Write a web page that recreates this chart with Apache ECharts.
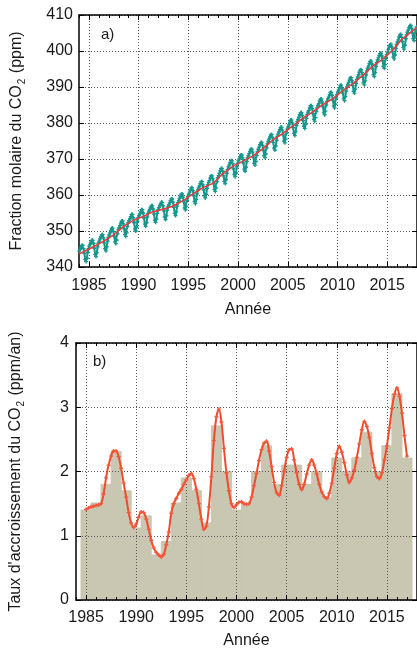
<!DOCTYPE html>
<html><head><meta charset="utf-8">
<script src="https://cdn.jsdelivr.net/npm/echarts@6/dist/echarts.min.js"></script>
<style>html,body{margin:0;padding:0;background:#fff}#c{width:417px;height:650px}</style>
</head><body><div id="c"></div>
<script>
// ---- data ----
const co2StartYear = 1984; // monthly values, one row per year (Jan..Dec)
const co2Monthly = [
[344.4,344.9,345.5,346.0,346.0,345.1,343.8,342.1,341.5,342.5,344.1,345.1],
[345.8,346.3,346.9,347.4,347.4,346.6,345.2,343.5,342.9,344.0,345.6,346.6],
[347.2,347.8,348.4,348.9,349.0,348.1,346.7,345.1,344.5,345.6,347.2,348.2],
[348.9,349.5,350.1,350.7,350.8,349.9,348.6,347.0,346.5,347.5,349.2,350.3],
[350.9,351.5,352.2,352.7,352.8,352.0,350.6,349.0,348.5,349.5,351.2,352.3],
[352.9,353.4,354.0,354.6,354.6,353.7,352.3,350.6,350.0,351.1,352.7,353.7],
[354.3,354.8,355.4,355.9,355.9,355.0,353.6,351.9,351.3,352.3,353.9,354.9],
[355.5,356.0,356.6,357.0,357.0,356.1,354.7,353.0,352.4,353.3,354.9,355.9],
[356.5,357.0,357.5,358.0,357.9,357.0,355.6,353.9,353.2,354.2,355.8,356.7],
[357.3,357.8,358.4,358.9,358.9,358.0,356.6,354.9,354.3,355.3,356.9,357.9],
[358.5,359.1,359.7,360.2,360.3,359.4,358.1,356.4,355.9,356.9,358.5,359.6],
[360.2,360.8,361.4,362.0,362.0,361.2,359.8,358.2,357.6,358.7,360.3,361.4],
[362.0,362.5,363.2,363.7,363.7,362.8,361.4,359.8,359.2,360.2,361.8,362.8],
[363.5,364.0,364.7,365.3,365.3,364.5,363.2,361.5,361.0,362.0,363.7,364.8],
[365.4,366.0,366.7,367.3,367.4,366.6,365.3,363.7,363.2,364.3,366.0,367.1],
[367.8,368.3,369.0,369.5,369.5,368.7,367.3,365.7,365.1,366.1,367.8,368.8],
[369.5,370.0,370.6,371.1,371.1,370.3,368.9,367.2,366.6,367.7,369.3,370.3],
[370.9,371.5,372.1,372.7,372.7,371.9,370.5,368.8,368.3,369.3,371.0,372.0],
[372.7,373.3,374.0,374.5,374.6,373.8,372.5,370.9,370.4,371.4,373.1,374.2],
[374.9,375.5,376.1,376.7,376.8,376.0,374.6,373.0,372.5,373.6,375.2,376.3],
[377.0,377.5,378.2,378.8,378.8,378.0,376.7,375.0,374.5,375.5,377.2,378.3],
[378.9,379.5,380.2,380.8,380.8,380.0,378.7,377.1,376.5,377.6,379.3,380.4],
[381.0,381.6,382.3,382.8,382.9,382.1,380.7,379.1,378.5,379.6,381.3,382.3],
[383.0,383.5,384.2,384.8,384.8,384.0,382.6,381.0,380.5,381.5,383.2,384.2],
[384.9,385.4,386.1,386.6,386.7,385.8,384.5,382.8,382.3,383.3,385.0,386.0],
[386.7,387.2,387.9,388.5,388.5,387.7,386.3,384.7,384.2,385.2,386.9,387.9],
[388.6,389.2,389.8,390.4,390.5,389.7,388.3,386.7,386.2,387.3,388.9,390.0],
[390.7,391.3,391.9,392.5,392.6,391.8,390.4,388.8,388.3,389.4,391.0,392.1],
[392.8,393.4,394.1,394.7,394.8,394.0,392.7,391.1,390.6,391.7,393.4,394.5],
[395.2,395.8,396.5,397.1,397.2,396.4,395.0,393.4,392.9,394.0,395.7,396.8],
[397.5,398.1,398.8,399.3,399.4,398.6,397.3,395.7,395.2,396.2,397.9,399.0],
[399.7,400.4,401.1,401.7,401.9,401.1,399.8,398.3,397.8,398.9,400.7,401.8],
[402.5,403.1,403.9,404.5,404.6,403.8,402.6,401.0,400.5,401.6,403.4,404.5],
[405.2,405.8,406.5,407.0,407.1,406.3,405.0,403.4,402.9,403.9,405.6,406.7]
];
const trendStartYear = 1984; // deseasonalised trend, every half year
const trendValues = [
343.6,344.3,345.0,345.7,346.45,347.2,348.1,349.0,350.15,351.3,352.15,353.0,
353.55,354.1,354.75,355.4,355.75,356.1,356.55,357.0,357.75,358.5,359.45,360.4,
361.25,362.1,362.7,363.3,364.65,366.0,367.0,368.0,368.7,369.4,370.15,370.9,
371.9,372.9,374.1,375.3,376.2,377.1,378.15,379.2,380.25,381.3,382.2,383.1,
384.1,385.1,385.9,386.7,387.8,388.9,389.9,390.9,392.0,393.1,394.4,395.7,
396.7,397.7,398.9,400.1,401.7,403.3,404.4,405.5,406.6
];
const barYears = [1985,1986,1987,1988,1989,1990,1991,1992,1993,1994,1995,1996,1997,1998,1999,2000,
2001,2002,2003,2004,2005,2006,2007,2008,2009,2010,2011,2012,2013,2014,2015,2016,2017];
const barValues = [1.40,1.51,1.80,2.31,1.70,1.12,1.31,0.70,0.91,1.51,1.90,1.70,1.20,2.71,2.00,1.40,
1.51,2.00,2.40,1.80,2.10,2.10,1.80,2.00,1.60,2.21,2.00,2.21,2.61,2.00,2.40,3.21,2.21];
const growthStartYear = 1985; // smoothed growth rate, every quarter year
const growthValues = [
1.41,1.43,1.45,1.46, 1.47,1.48,1.50,1.65, 1.90,2.10,2.24,2.32, 2.32,2.23,2.05,1.82,
1.60,1.36,1.20,1.13, 1.18,1.29,1.37,1.36, 1.26,1.10,0.93,0.81, 0.74,0.70,0.67,0.71,
0.86,1.06,1.35,1.50, 1.58,1.66,1.72,1.80, 1.87,1.94,1.97,1.89, 1.72,1.50,1.26,1.10,
1.15,1.45,1.92,2.48, 2.85,2.97,2.77,2.36, 1.98,1.70,1.50,1.44, 1.48,1.52,1.53,1.50,
1.49,1.50,1.60,1.78, 1.97,2.17,2.34,2.44, 2.47,2.32,2.08,1.83, 1.67,1.63,1.78,2.00,
2.22,2.34,2.35,2.18, 1.98,1.80,1.72,1.80, 1.96,2.10,2.18,2.10, 1.96,1.80,1.68,1.61,
1.58,1.66,1.82,2.05, 2.28,2.39,2.30,2.14, 1.95,1.83,1.90,2.02, 2.22,2.43,2.65,2.78,
2.70,2.53,2.28,2.06, 1.92,1.89,1.98,2.18, 2.40,2.68,2.98,3.20, 3.30,3.17,2.91,2.56,
2.24
];
const xTickYears = [1985,1990,1995,2000,2005,2010,2015];
const yTopTicks = {min:340, max:410, interval:10};
const yBotTicks = {min:0, max:4, interval:1};

// ---- build ----
const monthlyData = [];
co2Monthly.forEach((row, yi) => row.forEach((v, m) => monthlyData.push([co2StartYear + yi + (m + 0.5) / 12, v])));
const trendData = trendValues.map((v, i) => [trendStartYear + i * 0.5, v]);
const barData = barYears.map((y, i) => [y, barValues[i]]);
const growthData = growthValues.map((v, i) => [growthStartYear + i * 0.25, v]);

const FONT = "'Liberation Sans', Arial, Helvetica, sans-serif";
const TXT = '#1a1a1a';
const plus = 'path://M-1,-3H1V-1H3V1H1V3H-1V1H-3V-1H-1Z';
const dotted = {type:[1,2], color:'#5a5a5a', width:1};
const yearFmt = v => String(Math.round(v));

function xAxes(g, nameGap, margin) {
  const base = {gridIndex:g, type:'value', min:1984, max:2018};
  return [
    Object.assign({}, base, {position:'bottom',
      axisLine:{show:true, onZero:false, lineStyle:{color:'#000', width:1.5}},
      axisTick:{show:true, inside:true, length:5, customValues:xTickYears, lineStyle:{color:'#000'}},
      axisLabel:{show:true, customValues:xTickYears, formatter:yearFmt, margin:margin, fontSize:16, color:TXT, fontFamily:FONT},
      splitLine:{show:true, lineStyle:dotted},
      name:'Année', nameLocation:'middle', nameGap:nameGap,
      nameTextStyle:{fontSize:16, color:TXT, fontFamily:FONT}}),
    Object.assign({}, base, {position:'bottom', interval:1,
      axisLine:{show:false, onZero:false}, axisTick:{show:true, inside:true, length:3, lineStyle:{color:'#000'}},
      axisLabel:{show:false}, splitLine:{show:false}}),
    Object.assign({}, base, {position:'top',
      axisLine:{show:true, onZero:false, lineStyle:{color:'#000', width:1.5}},
      axisTick:{show:true, inside:true, length:5, customValues:xTickYears, lineStyle:{color:'#000'}},
      axisLabel:{show:false}, splitLine:{show:false}}),
    Object.assign({}, base, {position:'top', interval:1,
      axisLine:{show:false, onZero:false}, axisTick:{show:true, inside:true, length:3, lineStyle:{color:'#000'}},
      axisLabel:{show:false}, splitLine:{show:false}})
  ];
}
function yAxes(g, t, name, nameGap, margin) {
  const base = {gridIndex:g, type:'value', min:t.min, max:t.max, interval:t.interval};
  return [
    Object.assign({}, base, {position:'left',
      axisLine:{show:true, onZero:false, lineStyle:{color:'#000', width:1.5}},
      axisTick:{show:true, inside:true, length:5, lineStyle:{color:'#000'}},
      axisLabel:{show:true, margin:margin, fontSize:16, color:TXT, fontFamily:FONT},
      splitLine:{show:true, lineStyle:dotted},
      name:name, nameLocation:'middle', nameGap:nameGap, nameRotate:90,
      nameTextStyle:{color:TXT, fontFamily:FONT, fontSize:16,
        rich:{a:{fontSize:16, fontFamily:FONT, color:TXT, lineHeight:20},
              s:{fontSize:10, fontFamily:FONT, color:TXT, lineHeight:20, verticalAlign:'bottom', padding:[0,1,0,1]}}}}),
    Object.assign({}, base, {position:'right',
      axisLine:{show:true, onZero:false, lineStyle:{color:'#000', width:1.5}},
      axisTick:{show:true, inside:true, length:5, lineStyle:{color:'#000'}},
      axisLabel:{show:false}, splitLine:{show:false}})
  ];
}

const chart = echarts.init(document.getElementById('c'), null, {renderer:'canvas'});
chart.setOption({
  animation:false,
  backgroundColor:'#fff',
  grid:[
    {left:79, top:15, width:338, height:252},
    {left:73, top:343, width:344, height:257}
  ],
  xAxis:[].concat(xAxes(0, 35, 11), xAxes(1, 33, 10)),
  yAxis:[].concat(
    yAxes(0, yTopTicks, '{a|Fraction molaire du CO}{s|2}{a| (ppm)}', 52, 6),
    yAxes(1, yBotTicks, "{a|Taux d'accroissement du CO}{s|2}{a| (ppm/an)}", 50, 7)),
  graphic:[
    {type:'text', left:101, top:27, style:{text:'a)', fontSize:15, fontFamily:FONT, fill:TXT}},
    {type:'text', left:93, top:354, style:{text:'b)', fontSize:15, fontFamily:FONT, fill:TXT}}
  ],
  series:[
    {type:'line', xAxisIndex:0, yAxisIndex:0, data:monthlyData, symbol:plus, symbolSize:4, showAllSymbol:true,
      lineStyle:{color:'#15978d', width:2}, itemStyle:{color:'#15978d'}, z:2, clip:true},
    {type:'line', xAxisIndex:0, yAxisIndex:0, data:trendData, smooth:0.3, showSymbol:false,
      lineStyle:{color:'#e8383a', width:1.5}, z:3, clip:true},
    {type:'custom', xAxisIndex:4, yAxisIndex:2, data:barData, encode:{x:0, y:1}, z:-1, clip:true,
      renderItem:function(params, api){
        const x = api.value(0), v = api.value(1);
        const p0 = api.coord([x - 0.5, v]);
        const p1 = api.coord([x + 0.5, 0]);
        return {type:'rect', shape:{x:p0[0], y:p0[1], width:p1[0]-p0[0], height:p1[1]-p0[1]},
          style:{fill:'#c9c6b1', stroke:'#c9c6b1', lineWidth:1}};
      }},
    {type:'line', xAxisIndex:4, yAxisIndex:2, data:growthData, smooth:0.4, symbol:plus, symbolSize:4, showAllSymbol:true,
      lineStyle:{color:'#f04a2c', width:2}, itemStyle:{color:'#f2593a'}, z:3, clip:true}
  ]
});
</script></body></html>
